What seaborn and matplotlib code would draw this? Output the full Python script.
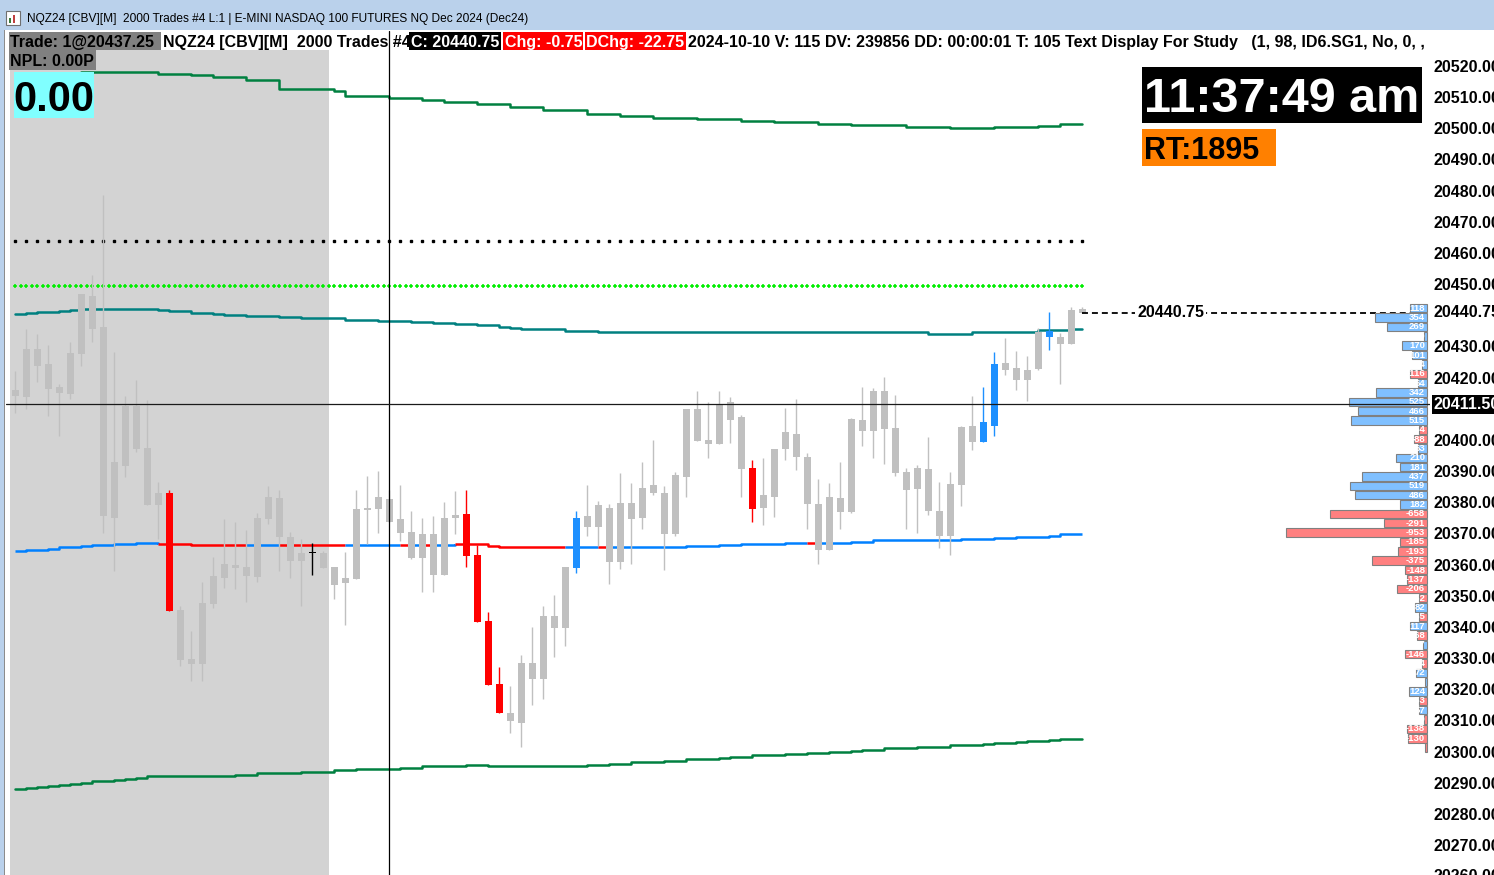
import numpy as np
import matplotlib
matplotlib.use("Agg")
import matplotlib.pyplot as plt
from matplotlib.patches import Rectangle
import seaborn as sns

# NQZ24 2000 trade bars, oldest bar first
bar_open = [20414.0, 20413.75, 20429.25, 20424.25, 20417.0, 20414.75, 20427.5, 20446.25, 20436.25, 20375.0,
            20391.75, 20411.0, 20397.5, 20379.0, 20383.0, 20345.5, 20329.75, 20328.0, 20347.25, 20355.75,
            20359.75, 20359.25, 20356.0, 20374.5, 20381.25, 20368.75, 20361.25, 20363.75, 20363.75, 20359.25,
            20354.0, 20355.25, 20377.5, 20377.75, 20381.0, 20374.5, 20370.5, 20362.0, 20369.75, 20356.75,
            20375.0, 20376.25, 20363.0, 20342.0, 20321.75, 20312.25, 20309.25, 20328.5, 20323.25, 20343.5,
            20339.75, 20359.0, 20375.5, 20372.0, 20378.25, 20360.75, 20379.75, 20375.0, 20385.5, 20383.0,
            20369.75, 20388.0, 20410.0, 20400.0, 20398.75, 20406.5, 20407.25, 20391.0, 20378.25, 20381.75,
            20397.0, 20402.0, 20394.5, 20379.5, 20364.75, 20381.25, 20376.75, 20406.5, 20402.75, 20415.75,
            20403.75, 20389.75, 20384.25, 20390.75, 20377.25, 20369.25, 20385.5, 20404.5, 20399.25, 20404.5,
            20424.75, 20423.0, 20419.25, 20422.75, 20433.0, 20433.0, 20430.75, 20442.0]
bar_high = [20422.25, 20435.5, 20434.0, 20430.5, 20418.0, 20431.5, 20446.75, 20453.0, 20478.5, 20428.25,
            20414.0, 20419.25, 20412.75, 20386.5, 20384.0, 20346.75, 20338.75, 20354.5, 20362.5, 20374.5,
            20373.75, 20371.0, 20376.5, 20385.25, 20384.0, 20370.5, 20368.25, 20367.0, 20364.25, 20359.25,
            20364.0, 20384.0, 20388.5, 20390.0, 20384.0, 20385.5, 20377.25, 20375.0, 20375.5, 20380.0,
            20383.5, 20384.0, 20366.25, 20344.75, 20327.25, 20321.0, 20331.0, 20340.0, 20346.75, 20350.25,
            20359.25, 20377.25, 20385.5, 20380.5, 20379.5, 20389.5, 20386.25, 20393.0, 20400.0, 20385.25,
            20389.75, 20410.0, 20415.75, 20412.25, 20415.75, 20413.75, 20408.0, 20393.5, 20394.25, 20397.0,
            20410.25, 20413.25, 20395.75, 20387.5, 20386.25, 20393.0, 20407.0, 20417.0, 20416.75, 20420.25,
            20414.5, 20391.0, 20392.0, 20401.0, 20386.5, 20389.75, 20404.5, 20414.0, 20417.0, 20428.25,
            20432.75, 20428.5, 20427.0, 20436.0, 20441.0, 20434.25, 20442.75, 20442.75]
bar_low = [20408.75, 20410.0, 20418.75, 20407.75, 20401.25, 20413.25, 20423.75, 20431.5, 20370.25, 20358.0,
           20388.25, 20396.25, 20379.0, 20368.25, 20345.0, 20327.5, 20322.5, 20322.5, 20346.0, 20352.5,
           20352.25, 20348.0, 20354.5, 20373.0, 20358.0, 20355.75, 20346.75, 20356.75, 20359.0, 20349.0,
           20340.5, 20355.25, 20366.5, 20370.0, 20373.75, 20367.5, 20361.75, 20351.25, 20351.25, 20356.75,
           20369.75, 20359.25, 20341.5, 20321.25, 20312.25, 20306.0, 20301.5, 20315.0, 20316.75, 20330.25,
           20334.0, 20357.25, 20369.25, 20366.0, 20353.75, 20358.5, 20360.25, 20371.5, 20382.25, 20358.25,
           20369.25, 20381.75, 20399.75, 20394.25, 20398.75, 20399.0, 20381.75, 20373.75, 20372.75, 20375.25,
           20393.5, 20390.25, 20371.5, 20360.25, 20364.75, 20371.5, 20376.5, 20398.0, 20394.25, 20392.25,
           20388.5, 20371.5, 20370.0, 20376.0, 20365.25, 20363.0, 20378.75, 20396.75, 20399.25, 20401.25,
           20420.75, 20416.0, 20412.5, 20422.5, 20428.75, 20418.0, 20430.75, 20440.75]
bar_close = [20416.0, 20429.25, 20423.75, 20416.25, 20415.0, 20428.0, 20446.75, 20435.5, 20375.5, 20393.0,
             20411.0, 20397.0, 20379.0, 20383.0, 20345.0, 20329.25, 20328.0, 20347.75, 20356.25, 20360.25,
             20359.0, 20356.25, 20375.0, 20381.75, 20368.75, 20361.25, 20363.75, 20363.75, 20359.0, 20353.5,
             20355.75, 20377.75, 20378.25, 20381.75, 20373.75, 20370.0, 20362.0, 20369.75, 20356.75, 20375.0,
             20376.0, 20362.75, 20341.5, 20321.25, 20312.25, 20309.75, 20328.5, 20323.25, 20343.5, 20339.75,
             20359.25, 20375.0, 20372.0, 20379.0, 20360.75, 20379.75, 20374.5, 20384.5, 20383.0, 20369.75,
             20388.75, 20410.0, 20399.75, 20398.75, 20411.25, 20412.25, 20390.75, 20377.75, 20382.25, 20397.0,
             20402.5, 20394.5, 20379.5, 20364.75, 20381.75, 20376.75, 20406.75, 20402.75, 20415.75, 20403.5,
             20389.5, 20384.0, 20391.0, 20377.25, 20369.25, 20385.75, 20404.25, 20399.25, 20405.75, 20424.25,
             20422.5, 20419.25, 20422.5, 20434.75, 20435.0, 20430.75, 20441.75, 20440.75]
# g = normal bar, r / b = bars flagged by the study, k = bar under the trade marker
bar_kind = ("g" * 14 + "r" + "g" * 12 + "k" + "g" * 13 + "rrrr" + "g" * 6 + "b"
            + "g" * 15 + "r" + "g" * 20 + "bb" + "g" * 4 + "b" + "ggg")

# stepped study lines: bar index where the value changes, and the new value
upper_idx = [6, 13, 16, 18, 21, 24, 29, 30, 34, 37, 39, 42, 45, 48, 52, 55, 58, 62, 66, 69, 73, 76, 81, 85,
             89, 93, 95]
upper_val = [20518.0, 20517.5, 20517.0, 20516.5, 20515.5, 20512.75, 20512.0, 20510.5, 20509.75, 20509.0,
             20508.5, 20507.75, 20506.75, 20505.75, 20504.75, 20504.0, 20503.25, 20503.0, 20502.5, 20502.0,
             20501.5, 20501.0, 20500.5, 20500.25, 20500.5, 20500.75, 20501.5]
lower_idx = [0, 1, 2, 3, 4, 5, 6, 7, 9, 10, 11, 12, 17, 20, 22, 24, 26, 29, 31, 33, 35, 37, 39, 41, 43, 45,
             50, 52, 54, 56, 58, 59, 61, 62, 64, 65, 67, 69, 70, 72, 74, 76, 77, 79, 80, 82, 85, 86, 88, 89,
             91, 92, 94, 95]
lower_val = [20288.0, 20288.25, 20288.5, 20289.0, 20289.25, 20289.5, 20290.0, 20290.5, 20290.75, 20291.25,
             20291.5, 20292.0, 20292.25, 20292.5, 20293.0, 20293.25, 20293.5, 20294.0, 20294.25, 20294.5,
             20294.75, 20295.25, 20295.5, 20295.75, 20295.5, 20295.25, 20295.5, 20295.75, 20296.0, 20296.5,
             20296.75, 20297.0, 20297.5, 20297.75, 20298.0, 20298.25, 20298.75, 20299.0, 20299.25, 20299.5,
             20300.0, 20300.25, 20300.5, 20301.0, 20301.25, 20301.5, 20302.0, 20302.25, 20302.5, 20302.75,
             20303.0, 20303.5, 20303.75, 20304.0]
mid_idx = [0, 1, 2, 4, 5, 6, 13, 14, 15, 16, 18, 19, 21, 24, 26, 28, 30, 33, 36, 38, 40, 42, 43, 44, 45, 46,
           48, 50, 53, 57, 64, 67, 70, 71, 83, 87, 90, 93, 96]
mid_val = [20440.5, 20440.75, 20441.0, 20441.5, 20441.75, 20442.0, 20441.75, 20441.5, 20441.25, 20440.75,
           20440.5, 20440.25, 20439.75, 20439.5, 20439.25, 20439.0, 20438.5, 20438.25, 20438.0, 20437.5,
           20437.25, 20437.0, 20436.75, 20436.25, 20436.0, 20435.75, 20435.5, 20435.0, 20434.75, 20434.5,
           20434.75, 20434.5, 20434.75, 20434.5, 20434.0, 20434.5, 20434.75, 20435.25, 20435.5]
vwap_idx = [0, 1, 3, 4, 5, 6, 7, 9, 11, 13, 16, 40, 43, 44, 46, 57, 61, 64, 66, 70, 76, 78, 81, 86, 89, 91,
            92, 94, 95]
vwap_val = [20364.5, 20364.75, 20365.0, 20365.5, 20365.75, 20366.0, 20366.25, 20366.75, 20367.0, 20366.75,
            20366.25, 20366.75, 20366.0, 20365.75, 20365.5, 20365.75, 20366.0, 20366.25, 20366.75, 20367.0,
            20367.25, 20367.75, 20368.0, 20368.25, 20368.5, 20368.75, 20369.0, 20369.25, 20369.75]
vwap_red_from = [13, 24, 35, 37, 40, 53, 72]
vwap_red_to = [21, 30, 36, 38, 50, 54, 73]

# volume profile (ask - bid per 3 point row, top row first)
vp_delta = [118, 354, 269, 20, 170, 101, 34, -116, 64, 342, 525, 466, 515, -54, -88, 63, 210, 181, 437, 519,
            486, 182, -658, -291, -953, -185, -193, -375, -148, -137, -206, -52, 82, -55, 117, -68, 27, -146,
            -34, 72, 12, 124, -53, 57, -20, -138, -130, -12]
vp_top = 20442.25
vp_step = 3.0

level_black = 20463.75
level_green = 20449.25
cursor_bar = 34
cursor_price = 20411.50
last_price = 20440.75
last_trade = 20437.25
chg = -0.75
dchg = -22.75
shade_first, shade_last = 0, 28
price_ticks = [p for p in range(20270, 20521, 10) if p not in (20410, 20440)]

W, H = 1494, 875
sns.set_theme(style="white")
plt.rcParams["font.family"] = ["Liberation Sans", "DejaVu Sans"]

fig = plt.figure(figsize=(W / 100, H / 100), dpi=100)
fig.patch.set_facecolor("white")

# chart region in pixels: x 6..1430, y 31..875
ax = fig.add_axes([6 / W, 0, (1430 - 6) / W, (875 - 31) / H])
ax.set_xlim((6 - 15.3) / 11, (1430 - 15.3) / 11)
ax.set_ylim(20260.38, 20531.23)
ax.set_facecolor("white")
for s in ax.spines.values():
    s.set_visible(False)
ax.set_xticks([])

# shaded session block + white header strip
ax.axvspan(shade_first - 0.48, shade_last + 0.52, color="#d3d3d3", lw=0, zorder=0)
ax.add_patch(Rectangle((0, 1 - 19 / 844), 1, 19 / 844, transform=ax.transAxes,
                       color="white", lw=0, zorder=1))

n = len(bar_open)
x = np.arange(n)
o = np.array(bar_open)
c = np.array(bar_close)
kind_col = {"g": "#c0c0c0", "r": "#ff0000", "b": "#1e90ff", "k": "#000000"}
cols = [kind_col[k] for k in bar_kind]

# bands
sns.lineplot(x=upper_idx + [n - 1], y=upper_val + [upper_val[-1]], drawstyle="steps-post",
             color="#008040", lw=1.8, ax=ax, zorder=2)
sns.lineplot(x=lower_idx + [n - 1], y=lower_val + [lower_val[-1]], drawstyle="steps-post",
             color="#008040", lw=1.8, ax=ax, zorder=2)
sns.lineplot(x=mid_idx + [n - 1], y=mid_val + [mid_val[-1]], drawstyle="steps-post",
             color="#008080", lw=1.8, ax=ax, zorder=2)

# vwap line, red where flagged
pos = np.searchsorted(vwap_idx, x, side="right") - 1
vw = np.array(vwap_val)[pos]
red = np.zeros(n, dtype=bool)
for a, b in zip(vwap_red_from, vwap_red_to):
    red[a:b] = True
start = 0
for k in range(1, n + 1):
    if k == n or red[k] != red[start]:
        end = min(k, n - 1)
        xs = list(range(start, end + 1))
        ys = list(vw[start:end]) + [vw[end]]
        if len(xs) == 1:
            xs, ys = [start, start + 0.01], [vw[start], vw[start]]
        ax.plot(xs, ys, drawstyle="steps-post", color="#ff0000" if red[start] else "#0080ff",
                lw=1.8, zorder=2, solid_capstyle="butt")
        start = k

# dotted levels
ax.plot(x, [level_black] * n, ls="none", marker="s", ms=1.6, color="black", zorder=2)
half = np.arange(0, n - 0.5, 0.5)
ax.plot(half, [level_green] * len(half), ls="none", marker="+", ms=3.5, mew=1.1, color="#00ee00", zorder=2)

# candles
ax.vlines(x, bar_low, bar_high, colors=cols, lw=1.0, zorder=3)
lo = np.minimum(o, c)
ax.bar(x, np.maximum(np.abs(c - o), 0.4), bottom=lo, width=0.64, color=cols, lw=0, zorder=3)

# crosshair column + last price marker
ax.axvline(cursor_bar, color="black", lw=0.9, zorder=6)
ax.plot([n - 1, (1427 - 15.3) / 11], [last_price, last_price], color="black", lw=1.3,
        ls=(0, (3.3, 2.2)), zorder=4)
ax.text((1137 - 15.3) / 11, last_price, f"{last_price:.2f}", ha="left", va="center", fontsize=11.5,
        fontweight="bold", color="black", zorder=7,
        bbox=dict(boxstyle="square,pad=0.1", fc="white", ec="none"))

# price scale
ax.yaxis.tick_right()
ax.set_yticks(price_ticks)
ax.set_yticklabels([f"{p:.2f}" for p in price_ticks])
ax.tick_params(axis="y", length=0, pad=2.5, labelsize=11.5, labelcolor="black")
for t in ax.get_yticklabels():
    t.set_fontweight("bold")
ytr = ax.get_yaxis_transform()
ax.annotate("20260.00", xy=(1, 20260), xycoords=ytr, xytext=(2.5, 0), textcoords="offset points",
            ha="left", va="center", fontsize=11.5, fontweight="bold", color="black", annotation_clip=False)
ax.annotate(f"{last_price:.2f}", xy=(1, last_price), xycoords=ytr, xytext=(2.5, 0),
            textcoords="offset points", ha="left", va="center", fontsize=11.5, fontweight="bold",
            color="black", annotation_clip=False)
ax.annotate(f"{cursor_price:.2f}", xy=(1, cursor_price), xycoords=ytr, xytext=(2.5, 0),
            textcoords="offset points", ha="left", va="center", fontsize=11.5, fontweight="bold",
            color="white", annotation_clip=False,
            bbox=dict(boxstyle="square,pad=0.12", fc="black", ec="none"))

# volume profile on a twin x scale: 0 at pixel 1427, 0.148 px per contract
vp = ax.twiny()
vp.set_xlim((6 - 1427) / 0.148, 3 / 0.148)
vp.set_axis_off()
vp_price = vp_top - vp_step * np.arange(len(vp_delta))
vd = np.array(vp_delta)
vp.barh(vp_price, np.abs(vd), left=-np.abs(vd), height=vp_step * 0.9,
        color=np.where(vd >= 0, "#80c0ff", "#ff8080"), edgecolor="#808080", lw=0.8, zorder=3)
for p, v in zip(vp_price, vd):
    vp.text(-12, p, str(v), ha="right", va="center", fontsize=6.8, fontweight="bold",
            color="white", zorder=4)
vp.axhline(cursor_price, color="#1a1a1a", lw=0.9, zorder=6)


def box(x0, y0, x1, y1, color, z=2):
    fig.add_artist(Rectangle((x0 / W, 1 - y1 / H), (x1 - x0) / W, (y1 - y0) / H,
                             transform=fig.transFigure, color=color, lw=0, zorder=z))


def label(xp, yp, s, **kw):
    kw.setdefault("va", "center")
    kw.setdefault("fontweight", "bold")
    fig.text(xp / W, 1 - yp / H, s, zorder=5, **kw)


# window title bar and frame
box(0, 0, W, 30, "#bad1eb")
box(0, 30, 4, H, "#bad1eb")
box(4, 30, 5, H, "#8c8c8c")
box(6, 11, 20, 25, "white")
fig.add_artist(Rectangle((6 / W, 1 - 25 / H), 14 / W, 14 / H, transform=fig.transFigure,
                         fill=False, ec="#707070", lw=0.8, zorder=3))
box(9, 18, 11, 23, "#3a7a3a", z=4)
box(13, 15, 15, 23, "#c04040", z=4)
label(27, 19, "NQZ24 [CBV][M]  2000 Trades #4 L:1 | E-MINI NASDAQ 100 FUTURES NQ Dec 2024 (Dec24)",
      fontsize=8.6, fontweight="normal", color="black")

# header line of the chart
hy = 42.5
box(8.6, 32, 161, 50, "#808080")
label(10.5, hy, f"Trade: 1@{last_trade:.2f}", fontsize=11.5, color="black")
label(162.6, hy, "NQZ24 [CBV][M]  2000 Trades #4", fontsize=11.5, color="black")
box(409.4, 32, 501.3, 50, "black")
label(411, hy, f"C: {last_price:.2f}", fontsize=11.5, color="white")
box(503, 32, 582.6, 50, "#ff0000")
label(505, hy, f"Chg: {chg:.2f}", fontsize=11.5, color="white")
box(584.5, 32, 686, 50, "#ff0000")
label(586.5, hy, f"DChg: {dchg:.2f}", fontsize=11.5, color="white")
label(688.5, hy, "2024-10-10 V: 115 DV: 239856 DD: 00:00:01 T: 105 Text Display For Study   "
      "(1, 98, ID6.SG1, No, 0, ,", fontsize=11.5, color="black")

box(8.6, 50, 95.7, 70, "#808080")
label(10.5, 61.5, "NPL: 0.00P", fontsize=11.5, color="black")
box(14.3, 72, 94.2, 118, "#80ffff")
label(54.3, 100, "0.00", fontsize=30, color="black", ha="center")

# clock and remaining time
box(1142, 67, 1422, 123, "black")
label(1282, 100, "11:37:49 am", fontsize=35, color="white", ha="center")
box(1142, 129, 1276, 166, "#ff8000")
label(1144.5, 151, "RT:1895", fontsize=22, color="black")

fig.savefig("out.png", dpi=100)
